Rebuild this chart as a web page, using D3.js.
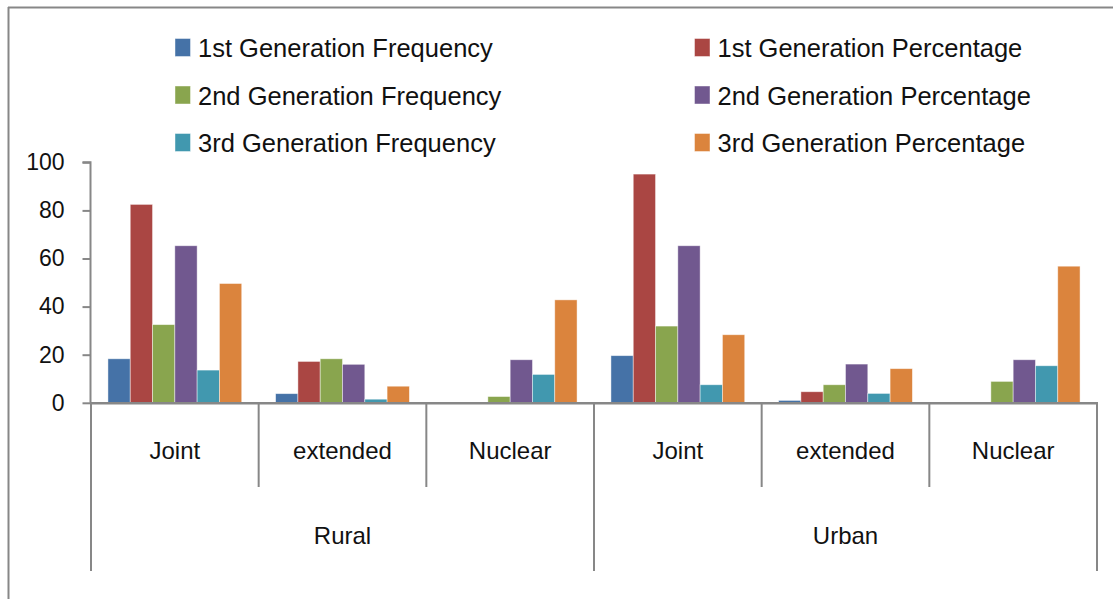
<!DOCTYPE html>
<html>
<head>
<meta charset="utf-8">
<script src="https://cdn.jsdelivr.net/npm/d3@7"></script>
<style>
  html, body { margin: 0; padding: 0; background: #fff; }
  svg { display: block; }
  text { font-family: "Liberation Sans", Arial, sans-serif; fill: #111; }
</style>
</head>
<body>
<svg id="chart" width="1113" height="599"></svg>
<script>
// ---- data ----
const groups = ["Rural", "Urban"];
const categories = ["Joint", "extended", "Nuclear"];
const seriesNames = [
  "1st Generation Frequency", "1st Generation Percentage",
  "2nd Generation Frequency", "2nd Generation Percentage",
  "3rd Generation Frequency", "3rd Generation Percentage"
];
const seriesColors = ["#4572a7", "#aa4643", "#89a54e", "#71588f", "#4198af", "#db843d"];
// values per category in order: Rural Joint, Rural extended, Rural Nuclear, Urban Joint, Urban extended, Urban Nuclear
const firstFreq   = [18.3, 3.8, 0, 19.6, 1.0, 0];
const firstPct    = [82.5, 17.2, 0, 95.1, 4.6, 0];
const secondFreq  = [32.5, 18.3, 2.6, 31.9, 7.5, 8.9];
const secondPct   = [65.3, 16.0, 17.9, 65.3, 16.1, 17.9];
const thirdFreq   = [13.6, 1.5, 11.8, 7.5, 3.9, 15.4];
const thirdPct    = [49.6, 6.9, 42.8, 28.3, 14.2, 56.8];
const yTicks = [0, 20, 40, 60, 80, 100];

const seriesValues = [firstFreq, firstPct, secondFreq, secondPct, thirdFreq, thirdPct];

// ---- layout ----
const svg = d3.select("#chart");
const axisColor = "#878787";
const plotLeft = 91, plotRight = 1097, plotTop = 162.3, plotBottom = 402.8;

const keys = [];
groups.forEach(g => categories.forEach(c => keys.push(g + "|" + c)));

const x0 = d3.scaleBand().domain(keys).range([plotLeft, plotRight]).paddingInner(0).paddingOuter(0);
const x1 = d3.scaleBand().domain(d3.range(seriesNames.length)).range([0, x0.bandwidth()])
  .paddingInner(0).paddingOuter(0.76);
const y = d3.scaleLinear().domain([0, 100]).range([plotBottom, plotTop]);

// outer frame (top + left edges)
svg.append("line").attr("x1", 8).attr("x2", 1113).attr("y1", 7.5).attr("y2", 7.5)
  .attr("stroke", axisColor).attr("stroke-width", 2);
svg.append("line").attr("x1", 8.5).attr("x2", 8.5).attr("y1", 7).attr("y2", 599)
  .attr("stroke", axisColor).attr("stroke-width", 2);

// bars
const catG = svg.append("g").selectAll("g").data(keys).join("g")
  .attr("transform", d => `translate(${x0(d)},0)`);
catG.selectAll("rect")
  .data((d, ci) => seriesValues.map((vals, si) => ({ si, v: vals[ci] })))
  .join("rect")
  .filter(d => d.v > 0)
  .attr("x", d => x1(d.si))
  .attr("width", x1.bandwidth())
  .attr("y", d => y(d.v))
  .attr("height", d => y(0) - y(d.v))
  .attr("fill", d => seriesColors[d.si])
  .attr("stroke", "rgba(255,255,255,0.55)")
  .attr("stroke-width", 0.8);

// y axis
const yAxis = d3.axisLeft(y).tickValues(yTicks).tickSize(8).tickPadding(18).tickFormat(d3.format("d"));
const yg = svg.append("g").attr("transform", `translate(${plotLeft - 0.5},0)`).call(yAxis);
yg.select(".domain").attr("stroke", axisColor).attr("stroke-width", 2).attr("d", `M-8,${plotTop}H0V${plotBottom}`);
yg.selectAll(".tick line").attr("stroke", axisColor).attr("stroke-width", 2);
yg.selectAll(".tick text").style("font-size", "23px").attr("fill", "#111")
  .style("font-family", "'Liberation Sans', Arial, sans-serif");

// category axis baseline
svg.append("line").attr("x1", plotLeft - 1).attr("x2", plotRight + 1)
  .attr("y1", plotBottom + 0.5).attr("y2", plotBottom + 0.5)
  .attr("stroke", axisColor).attr("stroke-width", 2.5);

// category dividers
const boundaries = keys.map(k => x0(k)).concat([plotRight]);
boundaries.forEach((bx, i) => {
  const isGroupEdge = (i % categories.length === 0);
  svg.append("line").attr("x1", bx).attr("x2", bx)
    .attr("y1", plotBottom).attr("y2", isGroupEdge ? 571 : 487)
    .attr("stroke", axisColor).attr("stroke-width", 2);
});

// category labels
svg.append("g").selectAll("text").data(keys).join("text")
  .attr("x", d => x0(d) + x0.bandwidth() / 2)
  .attr("y", 459)
  .attr("text-anchor", "middle")
  .style("font-size", "24px")
  .text(d => d.split("|")[1]);

// group labels
svg.append("g").selectAll("text").data(groups).join("text")
  .attr("x", (g, i) => {
    const a = x0(g + "|" + categories[0]);
    const b = x0(g + "|" + categories[categories.length - 1]) + x0.bandwidth();
    return (a + b) / 2;
  })
  .attr("y", 544)
  .attr("text-anchor", "middle")
  .style("font-size", "24px")
  .text(d => d);

// legend
const legendCols = [175, 694.5];
const legendRows = [47.5, 95, 142.5];
const lg = svg.append("g").selectAll("g").data(seriesNames).join("g")
  .attr("transform", (d, i) => `translate(${legendCols[i % 2]},${legendRows[Math.floor(i / 2)]})`);
lg.append("rect").attr("x", 0).attr("y", -9).attr("width", 15.5).attr("height", 18)
  .attr("fill", (d, i) => seriesColors[i])
  .attr("stroke", "rgba(255,255,255,0.55)").attr("stroke-width", 0.8);
lg.append("text").attr("x", 23).attr("y", 9.5)
  .style("font-size", "25.5px")
  .text(d => d);
</script>
</body>
</html>
